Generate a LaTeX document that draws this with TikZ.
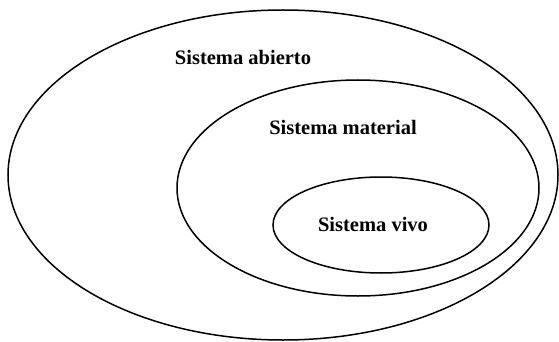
\documentclass[tikz,border=0pt]{standalone}
\usepackage{fontspec}
\setmainfont{Liberation Serif}
\begin{document}
\begin{tikzpicture}[x=1pt,y=-1pt,
  ring/.style={draw=black,line width=1.5pt},
  lbl/.style={font=\fontsize{20.5}{24}\selectfont\bfseries,inner sep=0pt}]
\useasboundingbox (0,0) rectangle (559,342);
\draw[ring] (283,175) ellipse [x radius=275, y radius=165];
\draw[ring] (358,188) ellipse [x radius=181, y radius=108];
\draw[ring] (381,225) ellipse [x radius=108, y radius=48];
\node[lbl] (abierto) at (243,57) {Sistema abierto};
\node[lbl] (material) at (343,127) {Sistema material};
\node[lbl] (vivo) at (373,224) {Sistema vivo};
\end{tikzpicture}
\end{document}
